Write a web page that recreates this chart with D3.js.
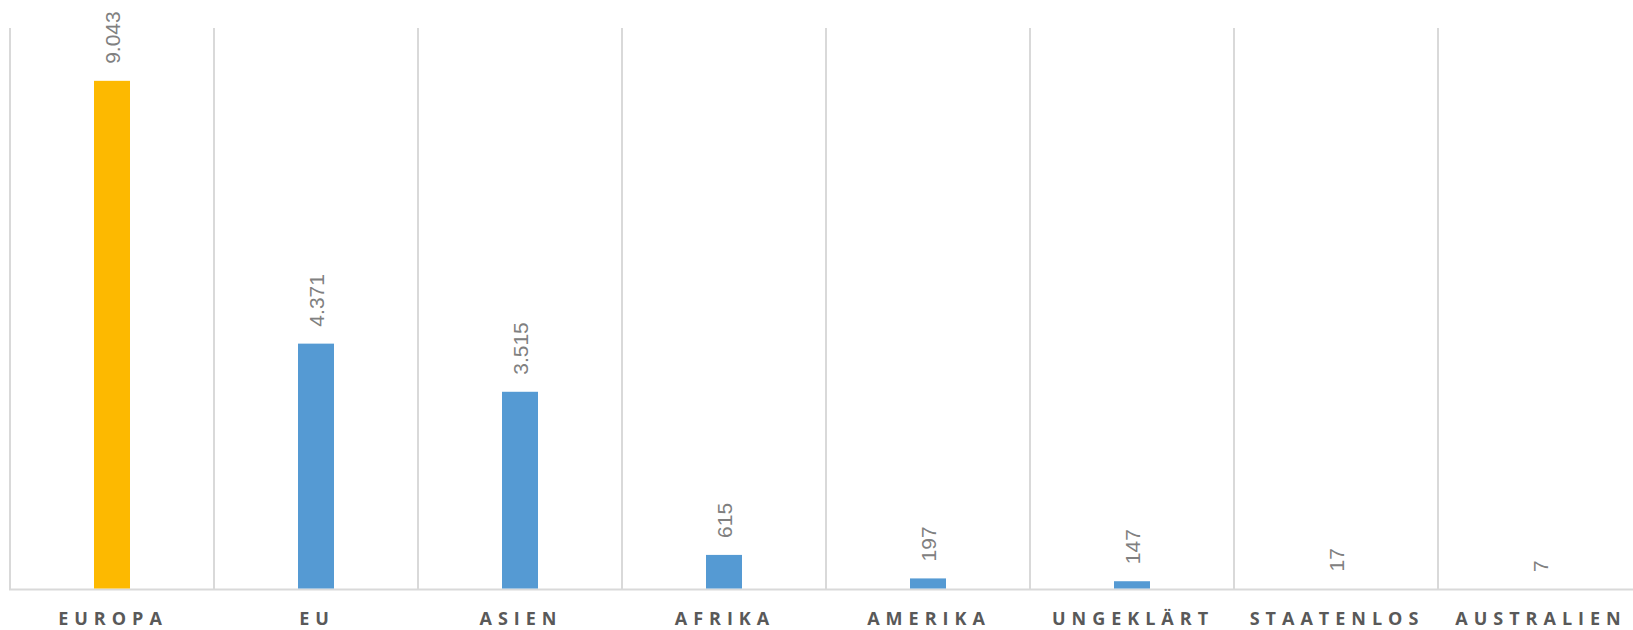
<!DOCTYPE html>
<html>
<head>
<meta charset="utf-8">
<script src="https://cdn.jsdelivr.net/npm/d3@7/dist/d3.min.js"></script>
<style>
  html, body { margin: 0; padding: 0; background: #fff; }
  svg { display: block; }
</style>
</head>
<body>
<svg id="chart" width="1633" height="630"></svg>
<script>
const categories = ["EUROPA", "EU", "ASIEN", "AFRIKA", "AMERIKA", "UNGEKLÄRT", "STAATENLOS", "AUSTRALIEN"];
const values = [9043, 4371, 3515, 615, 197, 147, 17, 7];
const valueLabels = ["9.043", "4.371", "3.515", "615", "197", "147", "17", "7"];
const highlight = ["EUROPA"];

const svg = d3.select("#chart");
const mLeft = 10, mRight = 1642, mTop = 27, mBottom = 589.5;

const x = d3.scaleBand().domain(categories).range([mLeft, mRight]).padding(0);
const y = d3.scaleLinear().domain([0, 10000]).range([mBottom, mTop]);
const step = x.step();
const barW = 36;

const grid = svg.append("g");
const bounds = categories.map(c => x(c)).concat([x(categories[categories.length - 1]) + step]);
grid.selectAll("line.v").data(bounds).enter().append("line")
  .attr("x1", d => d).attr("x2", d => d)
  .attr("y1", y(10000) + 1).attr("y2", mBottom)
  .attr("stroke", "#d9d9d9").attr("stroke-width", 2);
grid.append("line")
  .attr("x1", mLeft - 1).attr("x2", mRight)
  .attr("y1", mBottom).attr("y2", mBottom)
  .attr("stroke", "#d9d9d9").attr("stroke-width", 2);

const data = categories.map((c, i) => ({ c, v: values[i], l: valueLabels[i] }));

svg.append("g").selectAll("rect").data(data).enter().append("rect")
  .attr("x", d => x(d.c) + (step - barW) / 2)
  .attr("width", barW)
  .attr("y", d => y(d.v))
  .attr("height", d => Math.max(0, mBottom - y(d.v) - 1))
  .attr("fill", d => highlight.includes(d.c) ? "#FDB900" : "#559AD3");

svg.append("g").selectAll("text").data(data).enter().append("text")
  .attr("transform", d => `translate(${x(d.c) + step / 2},${y(d.v) - 17}) rotate(-90)`)
  .attr("text-anchor", "start")
  .attr("dominant-baseline", "central")
  .attr("font-family", "Liberation Sans, Arial, sans-serif")
  .attr("font-size", 21)
  .attr("fill", "#808080")
  .text(d => d.l);

const ls = 6;
svg.append("g").selectAll("text").data(categories).enter().append("text")
  .attr("x", d => x(d) + step / 2 + ls / 2 - 2)
  .attr("y", 625)
  .attr("text-anchor", "middle")
  .attr("font-family", "Open Sans, Liberation Sans, sans-serif")
  .attr("font-weight", "bold")
  .attr("font-size", 18)
  .attr("letter-spacing", ls)
  .attr("fill", "#595959")
  .text(d => d);
</script>
</body>
</html>
